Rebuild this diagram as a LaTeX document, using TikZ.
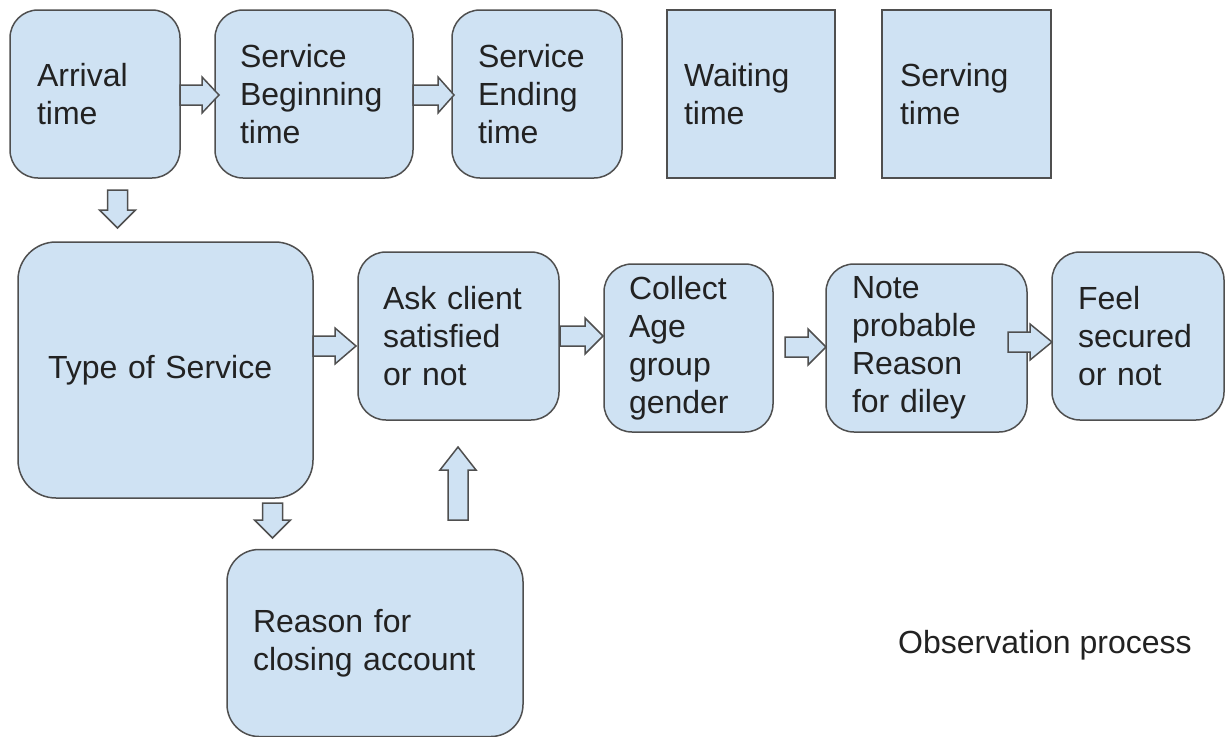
\documentclass[tikz,border=0pt]{standalone}
\usepackage{fontspec}
\setmainfont{Liberation Sans}
\definecolor{boxc}{HTML}{CFE2F3}
\definecolor{bordc}{HTML}{4F4F4F}
\definecolor{txtc}{HTML}{222222}
\tikzset{
  box/.style={draw=bordc, fill=boxc, line width=1.5pt, rectangle,
    align=left, text=txtc, inner ysep=0pt,
    font=\fontsize{32}{38}\selectfont},
  blk/.style={draw=bordc, fill=boxc, line width=1.5pt, line join=miter},
  lbl/.style={text=txtc, font=\fontsize{32}{38}\selectfont, inner sep=0pt}
}
% horizontal block arrow: tail x, head base x, tip x, centre y
\newcommand\rblk[4]{\draw[blk] (#1,#4-10) -- (#2,#4-10) -- (#2,#4-18) -- (#3,#4)
  -- (#2,#4+18) -- (#2,#4+10) -- (#1,#4+10) -- cycle;}
% vertical block arrow: tail y, head base y, tip y, centre x
\newcommand\vblk[4]{\draw[blk] (#4-10,#1) -- (#4-10,#2) -- (#4-18,#2) -- (#4,#3)
  -- (#4+18,#2) -- (#4+10,#2) -- (#4+10,#1) -- cycle;}
\begin{document}
\begin{tikzpicture}[x=1pt,y=-1pt]
\useasboundingbox (0,0) rectangle (1225,736);

% top row
\node[box, rounded corners=28pt, minimum width=170pt, minimum height=168pt, inner xsep=27pt, text width=116pt]
  (arr) at (95,94) {Arrival\\time};
\node[box, rounded corners=28pt, minimum width=198pt, minimum height=168pt, inner xsep=25pt, text width=148pt]
  (sb) at (314,94) {Service\\Beginning\\time};
\node[box, rounded corners=28pt, minimum width=170pt, minimum height=168pt, inner xsep=26pt, text width=118pt]
  (se) at (537,94) {Service\\Ending\\time};
\node[box, minimum width=168pt, minimum height=168pt, inner xsep=17pt, text width=134pt]
  (wt) at (751,94) {Waiting\\time};
\node[box, minimum width=169pt, minimum height=168pt, inner xsep=18pt, text width=133pt]
  (st) at (966.5,94) {Serving\\time};

% middle row
\node[box, rounded corners=38pt, minimum width=295pt, minimum height=256pt, inner xsep=30pt, text width=235pt]
  (tos) at (165.5,370) {Type of Service};
\node[box, rounded corners=28pt, minimum width=201pt, minimum height=168pt, inner xsep=25pt, text width=151pt]
  (ask) at (458.5,336) {Ask client\\satisfied\\or not};
\node[box, rounded corners=28pt, minimum width=169pt, minimum height=168pt, inner xsep=25pt, text width=119pt]
  (col) at (688.5,348) {Collect\\Age\\group\\gender};
\node[box, rounded corners=28pt, minimum width=201pt, minimum height=168pt, inner xsep=26pt, text width=149pt]
  (note) at (926.5,348) {Note\\probable\\Reason\\for diley};
\node[box, rounded corners=28pt, minimum width=172pt, minimum height=168pt, inner xsep=26pt, text width=120pt]
  (feel) at (1138,336) {Feel\\secured\\or not};

% bottom
\node[box, rounded corners=32pt, minimum width=296pt, minimum height=187pt, inner xsep=26pt, text width=244pt]
  (rsn) at (375,643) {Reason for\\closing account};
\node[lbl, anchor=west] (obs) at (898,645) {Observation process};

% block arrows
\rblk{180}{202}{219}{95}
\rblk{413}{438}{454}{95}
\vblk{190}{210}{228}{117.5}
\rblk{313}{335}{356}{346}
\rblk{560}{585}{603}{336}
\rblk{785}{808}{826}{347}
\rblk{1008}{1030}{1052}{342}
\vblk{503}{520}{538}{272.5}
\vblk{520}{470}{447}{458}
\end{tikzpicture}
\end{document}
